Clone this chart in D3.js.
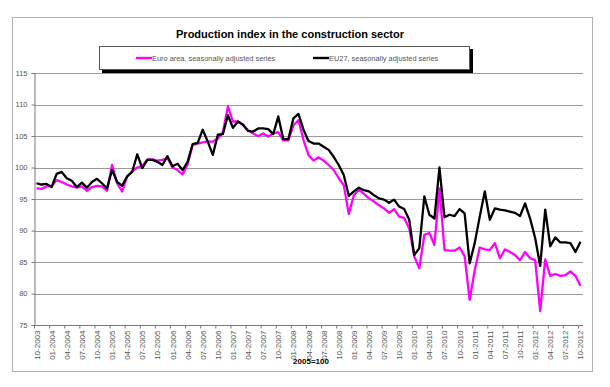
<!DOCTYPE html>
<html>
<head>
<meta charset="utf-8">
<script src="https://cdn.jsdelivr.net/npm/d3@7"></script>
<style>
  body { margin: 0; background: #fff; }
  svg { font-family: "Liberation Sans", Arial, sans-serif; display: block; }
</style>
</head>
<body>
<div class="chart-div"></div>
<script>
const title = "Production index in the construction sector";
const seriesNames = ["Euro area, seasonally adjusted series", "EU27, seasonally adjusted series"];

// monthly categories 10-2003 .. 10-2012
const months = [];
for (let y = 2003, m = 10; y < 2012 || (y === 2012 && m <= 10); m++) {
  if (m > 12) { m = 1; y++; }
  months.push(String(m).padStart(2, "0") + "-" + y);
}

const tickLabels = ["10-2003","01-2004","04-2004","07-2004","10-2004","01-2005","04-2005","07-2005","10-2005",
  "01-2006","04-2006","07-2006","10-2006","01-2007","04-2007","07-2007","10-2007","01-2008","04-2008",
  "07-2008","10-2008","01-2009","04-2009","07-2009","10-2009","01-2010","04-2010","07-2010","10-2010",
  "01-2011","04-2011","07-2011","10-2011","01-2012","04-2012","07-2012","10-2012"];

const yTicks = [75, 80, 85, 90, 95, 100, 105, 110, 115];

const euroArea = [96.7,96.6,97.0,97.0,98.0,97.7,97.3,97.0,96.8,97.0,96.3,96.9,97.1,97.0,96.3,100.4,97.5,96.2,98.6,99.4,
  100.0,100.2,101.3,101.3,101.1,101.2,101.5,100.0,99.6,98.9,100.5,103.6,103.8,104.0,104.1,104.1,104.6,105.6,109.7,107.3,
  107.3,106.8,105.9,105.4,105.0,105.4,104.9,105.4,105.6,104.3,104.3,106.7,107.5,104.4,102.0,101.1,101.6,101.1,100.4,99.6,
  98.3,97.2,92.6,95.6,96.5,95.8,95.1,94.6,94.0,93.5,92.8,93.4,92.2,92.0,90.3,85.9,84.0,89.3,89.6,87.7,
  96.7,86.9,86.8,86.8,87.3,85.9,79.0,83.7,87.3,87.0,86.9,88.0,85.6,87.0,86.6,86.1,85.3,86.6,85.6,85.3,
  77.2,85.4,82.8,83.1,82.8,82.9,83.5,82.8,81.2];

const eu27 = [97.5,97.3,97.4,96.9,99.0,99.3,98.3,97.9,96.9,97.6,96.8,97.7,98.2,97.5,96.7,99.6,97.7,97.1,98.6,99.3,
  102.1,99.9,101.2,101.2,100.9,100.4,101.8,100.2,100.6,99.6,100.9,103.7,103.9,106.0,104.1,102.0,105.2,105.3,108.3,106.3,
  107.3,106.8,105.8,105.7,106.2,106.2,106.1,105.3,108.1,104.5,104.5,107.8,108.5,106.0,104.2,103.8,103.8,103.3,102.8,101.7,
  100.4,98.8,95.5,96.2,96.8,96.4,96.2,95.6,95.1,94.9,94.4,94.9,93.8,93.4,91.7,86.1,87.2,95.4,92.5,91.9,
  100.0,92.1,92.5,92.3,93.4,92.7,84.8,88.0,92.2,96.2,91.7,93.5,93.3,93.2,93.0,92.8,92.3,94.3,91.9,88.8,
  84.4,93.3,87.5,88.9,88.1,88.1,88.0,86.6,88.2];

const colors = ["#ff00ff", "#000000"];

const W = 610, H = 387;
const plot = { left: 34, right: 583, top: 73, bottom: 325 };

const svg = d3.select(".chart-div").append("svg")
  .attr("width", W).attr("height", H);

// chart frame
svg.append("rect")
  .attr("x", 12.5).attr("y", 17.5)
  .attr("width", 580).attr("height", 354)
  .attr("fill", "#fff").attr("stroke", "#b0b0b0");

const x = d3.scaleBand().domain(months).range([plot.left, plot.right]).padding(0);
const y = d3.scaleLinear().domain([75, 115]).range([plot.bottom, plot.top]);

// gridlines
svg.append("g").selectAll("line")
  .data(yTicks.filter(d => d > 75)).enter()
  .append("line")
  .attr("x1", plot.left).attr("x2", plot.right)
  .attr("y1", d => Math.round(y(d)) + 0.5).attr("y2", d => Math.round(y(d)) + 0.5)
  .attr("stroke", "#9a9a9a").attr("stroke-width", 1.2);

// y axis
const yAxis = d3.axisLeft(y).tickValues(yTicks).tickSize(3).tickPadding(4);
svg.append("g")
  .attr("transform", `translate(${plot.left + 0.5},0)`)
  .call(yAxis)
  .call(g => g.select(".domain").attr("stroke", "#777"))
  .call(g => g.selectAll(".tick line").attr("stroke", "#777"))
  .call(g => g.selectAll("text").attr("fill", "#555").style("font-size", "7.5px").style("font-family", "Liberation Sans, Arial, sans-serif"));

// x axis: labels every 3rd month, ticks between categories
const xLabelScale = d3.scalePoint().domain(months).range([plot.left + x.bandwidth() / 2, plot.right - x.bandwidth() / 2]);
const xAxisG = svg.append("g").attr("transform", `translate(0,${plot.bottom + 0.5})`);
xAxisG.append("line")
  .attr("x1", plot.left).attr("x2", plot.right)
  .attr("stroke", "#777");
xAxisG.selectAll("line.tick")
  .data(months.filter((d, i) => i % 3 === 0)).enter()
  .append("line").attr("class", "tick")
  .attr("x1", d => x(d) + 0.5).attr("x2", d => x(d) + 0.5)
  .attr("y1", 0).attr("y2", 3)
  .attr("stroke", "#777");
xAxisG.selectAll("text")
  .data(tickLabels).enter()
  .append("text")
  .attr("transform", d => `translate(${xLabelScale(d) + 3},5) rotate(-90)`)
  .attr("text-anchor", "end")
  .attr("fill", "#555")
  .style("font-size", "8px")
  .text(d => d);

svg.append("text")
  .attr("x", 311).attr("y", 364)
  .attr("text-anchor", "middle")
  .style("font-size", "8px").style("font-weight", "bold")
  .text("2005=100");

// lines
const line = d3.line()
  .x((d, i) => xLabelScale(months[i]))
  .y(d => y(d));

[euroArea, eu27].forEach((s, k) => {
  svg.append("path")
    .datum(s)
    .attr("fill", "none")
    .attr("stroke", colors[k])
    .attr("stroke-width", 2.3)
    .attr("stroke-linejoin", "round")
    .attr("d", line);
});

// title
svg.append("text")
  .attr("x", 290).attr("y", 38)
  .attr("text-anchor", "middle")
  .style("font-size", "11px").style("font-weight", "bold")
  .text(title);

// legend with shadow
const lg = svg.append("g");
lg.append("rect").attr("x", 102).attr("y", 49).attr("width", 371).attr("height", 24).attr("fill", "#000");
lg.append("rect").attr("x", 99.5).attr("y", 46.5).attr("width", 370).attr("height", 23)
  .attr("fill", "#fff").attr("stroke", "#555");
const legendX = [136, 313];
seriesNames.forEach((name, k) => {
  lg.append("line")
    .attr("x1", legendX[k]).attr("x2", legendX[k] + 16)
    .attr("y1", 58).attr("y2", 58)
    .attr("stroke", colors[k]).attr("stroke-width", 2.4);
  lg.append("text")
    .attr("x", legendX[k] + 16).attr("y", 60.5)
    .attr("fill", "#555")
    .style("font-size", "7.4px")
    .text(name);
});
</script>
</body>
</html>
